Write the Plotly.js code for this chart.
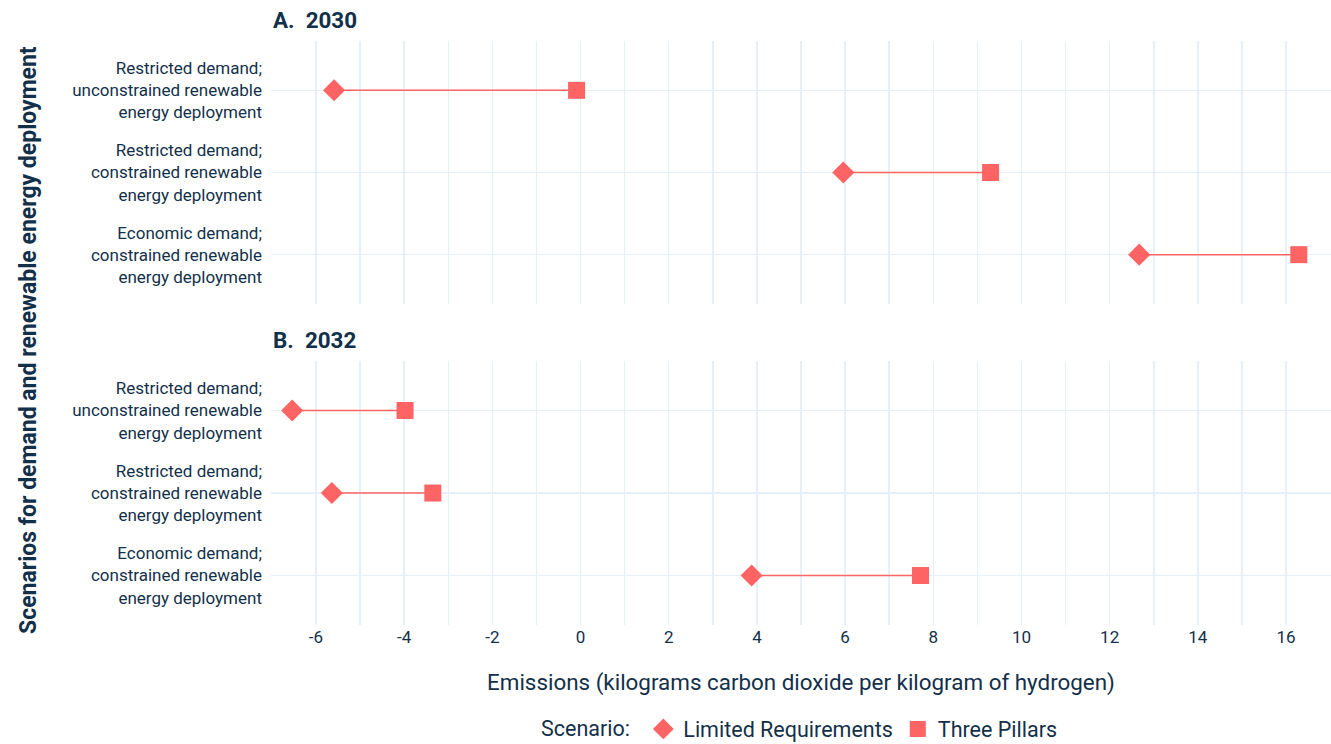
<!DOCTYPE html>
<html>
<head>
<meta charset="utf-8">
<script src="https://cdn.plot.ly/plotly-3.0.1.min.js"></script>
<style>html,body{margin:0;padding:0;background:#fff;}#chart{width:1331px;height:744px;}</style>
</head>
<body>
<div id="chart"></div>
<script>
const categories = [
  "Restricted demand;<br>unconstrained renewable<br>energy deployment",
  "Restricted demand;<br>constrained renewable<br>energy deployment",
  "Economic demand;<br>constrained renewable<br>energy deployment"
];
const panelTitles = ["A.  2030", "B.  2032"];
const limited2030 = [-5.59, 5.96, 12.67];
const pillars2030 = [-0.09, 9.30, 16.29];
const limited2032 = [-6.54, -5.64, 3.88];
const pillars2032 = [-3.98, -3.35, 7.71];
const seriesNames = ["Limited Requirements", "Three Pillars"];
const xTickVals = [-6, -4, -2, 0, 2, 4, 6, 8, 10, 12, 14, 16];
const xTickText = ["-6", "-4", "-2", "0", "2", "4", "6", "8", "10", "12", "14", "16"];

const RED = "#ff6464";
const DARK = "#13304a";
const FONT = "Roboto, 'Open Sans', sans-serif";

function panel(lim, tp, xa, ya, showLeg) {
  const lx = [], ly = [];
  categories.forEach((c, i) => { lx.push(lim[i], tp[i], null); ly.push(c, c, null); });
  return [
    {x: lx, y: ly, xaxis: xa, yaxis: ya, mode: "lines", line: {color: RED, width: 1.5},
     showlegend: false, hoverinfo: "skip", type: "scatter"},
    {x: lim, y: categories, xaxis: xa, yaxis: ya, mode: "markers", name: seriesNames[0],
     legendgroup: "l", showlegend: showLeg, type: "scatter",
     marker: {symbol: "diamond", size: 17, color: RED}},
    {x: tp, y: categories, xaxis: xa, yaxis: ya, mode: "markers", name: seriesNames[1],
     legendgroup: "t", showlegend: showLeg, type: "scatter",
     marker: {symbol: "square", size: 17, color: RED}}
  ];
}

const data = [
  ...panel(limited2030, pillars2030, "x", "y", true),
  ...panel(limited2032, pillars2032, "x2", "y2", false)
];

const gridColor = "#e6f0fa";
const xBase = {
  range: [-7.02, 17.02], tickmode: "array", tickvals: xTickVals, ticktext: xTickText,
  showgrid: true, gridcolor: gridColor, gridwidth: 1.5,
  minor: {dtick: 1, tick0: 0, showgrid: true, gridcolor: gridColor, gridwidth: 1.5},
  zeroline: false, showline: false, ticks: "",
  tickfont: {family: FONT, size: 17, color: DARK}
};
const yBase = {
  type: "category", categoryorder: "array", categoryarray: categories,
  range: [2.6, -0.6], showgrid: true, gridcolor: gridColor, gridwidth: 1.5,
  zeroline: false, showline: false, ticks: "", ticklabelstandoff: 8,
  tickfont: {family: FONT, size: 17, color: DARK}
};

const layout = {
  width: 1331, height: 744,
  margin: {l: 271, r: 0, t: 41, b: 119, autoexpand: false},
  paper_bgcolor: "#fff", plot_bgcolor: "#fff",
  font: {family: FONT, color: DARK},
  xaxis: Object.assign({}, xBase, {anchor: "y", showticklabels: false, matches: "x2"}),
  xaxis2: Object.assign({}, xBase, {anchor: "y2",
    title: {text: "Emissions (kilograms carbon dioxide per kilogram of hydrogen)",
            font: {family: FONT, size: 22.4, color: DARK}, standoff: 28}}),
  yaxis: Object.assign({}, yBase, {domain: [0.5497, 1]}),
  yaxis2: Object.assign({}, yBase, {domain: [0, 0.452]}),
  showlegend: true,
  legend: {orientation: "h", x: 0.5, xanchor: "center", xref: "paper",
    yref: "paper", y: -0.178, yanchor: "middle",
    font: {family: FONT, size: 21.5, color: DARK},
    title: {text: "Scenario: ", font: {family: FONT, size: 21.5, color: DARK}}},
  annotations: [
    {text: "<b>" + panelTitles[0] + "</b>", xref: "paper", yref: "paper", x: 0, y: 1, yshift: 21,
     xanchor: "left", yanchor: "middle", showarrow: false, font: {family: FONT, size: 22.4, color: DARK}},
    {text: "<b>" + panelTitles[1] + "</b>", xref: "paper", yref: "paper", x: 0, y: 0.452, yshift: 21,
     xanchor: "left", yanchor: "middle", showarrow: false, font: {family: FONT, size: 22.4, color: DARK}},
    {text: "<b>Scenarios for demand and renewable energy deployment</b>", xref: "paper", yref: "paper",
     x: 0, xshift: -243, y: 0.5, yshift: -7, textangle: -90, xanchor: "center", yanchor: "middle",
     showarrow: false, font: {family: FONT, size: 23, color: DARK}}
  ]
};

Plotly.newPlot("chart", data, layout, {displayModeBar: false, staticPlot: true});
</script>
</body>
</html>
